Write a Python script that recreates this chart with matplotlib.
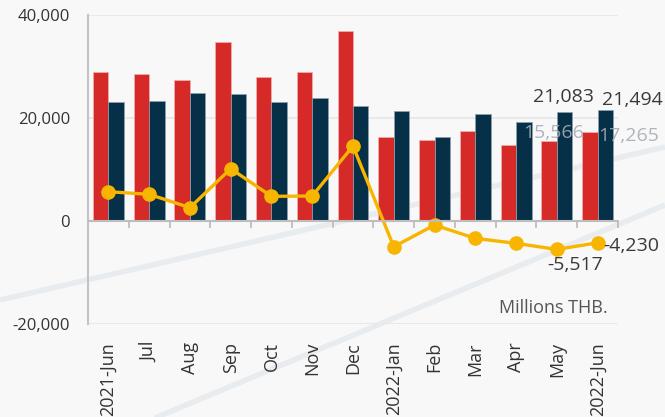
import matplotlib
matplotlib.use("Agg")
import matplotlib.pyplot as plt
import numpy as np
from matplotlib.lines import Line2D

plt.rcParams['font.family'] = ['Open Sans', 'DejaVu Sans']

months = ["2021-Jun", "Jul", "Aug", "Sep", "Oct", "Nov", "Dec",
          "2022-Jan", "Feb", "Mar", "Apr", "May", "2022-Jun"]
exports = [28870, 28540, 27380, 34820, 27900, 28870, 36830,
           16280, 15670, 17540, 14760, 15566, 17265]
imports = [23110, 23370, 24920, 24660, 23100, 23950, 22330,
           21360, 16370, 20840, 19220, 21083, 21494]
balance = [5690, 5180, 2590, 10160, 4790, 4850, 14560,
           -5000, -780, -3370, -4340, -5517, -4230]

yticks = [-20000, 0, 20000, 40000]
ytick_labels = ["-20,000", "0", "20,000", "40,000"]

RED = "#d62a29"
NAVY = "#062f48"
GOLD = "#f7b500"
BG = "#f8f8f8"

fig = plt.figure(figsize=(6.65, 4.17), dpi=100, facecolor=BG)

# faint decorative diagonal bands in the background
for (x0, y0, x1, y1) in [(0, 300, 665, 147), (150, 420, 665, 205)]:
    fig.add_artist(Line2D([x0 / 665, x1 / 665], [1 - y0 / 417, 1 - y1 / 417],
                          transform=fig.transFigure, color="#e8ebef",
                          lw=4, alpha=0.9, zorder=0, solid_capstyle="butt"))

ax = fig.add_axes([88 / 665, 1 - 324 / 417, 530 / 665, 309 / 417])
ax.set_facecolor("none")

x = np.arange(len(months))
w = 0.38
ax.bar(x - w / 2, exports, width=w, color=RED, edgecolor="#f0b0b0",
       linewidth=0.5, zorder=3)
ax.bar(x + w / 2, imports, width=w, color=NAVY, edgecolor="#90a0b0",
       linewidth=0.5, zorder=3)
ax.plot(x, balance, color=GOLD, lw=2.4, marker="o", markersize=9.5,
        zorder=4, solid_capstyle="round")

ax.set_xlim(-0.5, len(months) - 0.5)
ax.set_ylim(-20000, 40000)

# grid lines
for yv in [20000, 40000, -20000]:
    ax.axhline(yv, color="#e6e6e6", lw=1.2, zorder=1)
ax.axhline(0, color="#bdbdbd", lw=1.5, zorder=5)
for b in np.arange(0.5, len(months), 1.0):
    ax.plot([b, b], [0, -1100], color="#bdbdbd", lw=1.3, zorder=5,
            clip_on=False)

for s in ["top", "right", "bottom"]:
    ax.spines[s].set_visible(False)
ax.spines["left"].set_color("#c4c4c4")
ax.spines["left"].set_linewidth(1.5)

ax.set_yticks(yticks)
ax.set_yticklabels(ytick_labels, fontsize=12, color="#333333")
ax.tick_params(axis="y", length=0, pad=13)

ax.set_xticks(x)
ax.set_xticklabels(months, rotation=90, fontsize=13, color="#333333")
ax.tick_params(axis="x", length=0, pad=13)

# data labels
lab = dict(fontsize=14, ha="center", va="center", zorder=6)
ax.text(11.17, 24100, f"{imports[11]:,}", color="#3a3a3a", **lab)
ax.text(12.86, 23500, f"{imports[12]:,}", color="#3a3a3a", clip_on=False, **lab)
ax.text(10.92, 17090, f"{exports[11]:,}", color="#a5adb5", alpha=0.9, **lab)
ax.text(12.76, 16560, f"{exports[12]:,}", color="#a5adb5", alpha=0.9,
        clip_on=False, **lab)
ax.text(11.44, -8540, f"{balance[11]:,}", color="#3a3a3a", **lab)
ax.text(12.83, -4850, f"{balance[12]:,}", color="#3a3a3a", clip_on=False, **lab)

ax.text(0.981, 0.052, "Millions THB.", transform=ax.transAxes, fontsize=13,
        ha="right", va="center", color="#555555")

fig.savefig("out.png", dpi=100, facecolor=BG)
